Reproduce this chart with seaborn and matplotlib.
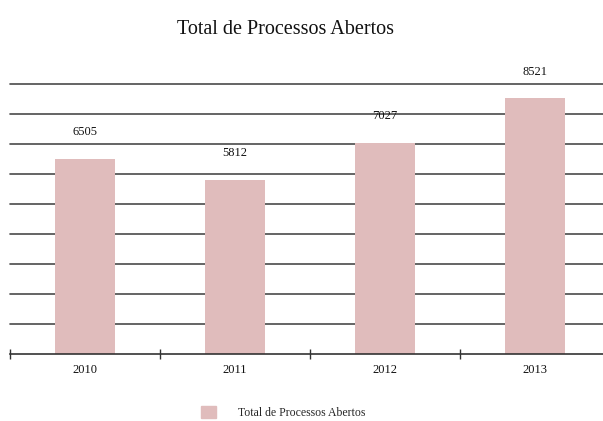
import numpy as np
import pandas as pd
import matplotlib
matplotlib.use("Agg")
import matplotlib.pyplot as plt
import seaborn as sns

years = ["2010", "2011", "2012", "2013"]
abertos = [6505, 5812, 7027, 8521]
serie = "Total de Processos Abertos"

sns.set_theme(style="white")
plt.rcParams['font.family'] = ['Liberation Serif', 'DejaVu Serif']

df = pd.DataFrame({"ano": years, "valor": abertos})

fig = plt.figure(figsize=(6.03, 4.21), dpi=100)
ax = fig.add_axes([10 / 603, 67 / 421, 600 / 603, 270 / 421])

# grid lines under the bars
for y in range(1000, 10000, 1000):
    ax.axhline(y, color="#4a4a4a", lw=1.2, zorder=0, clip_on=False)

sns.barplot(data=df, x="ano", y="valor", color="#E0BCBC", width=0.4,
            saturation=1, ax=ax, zorder=2, linewidth=0)

for i, v in enumerate(abertos):
    ax.annotate(str(v), (i, v), xytext=(0, 15), textcoords="offset points",
                ha="center", va="bottom", fontsize=9, color="#111111")

ax.set_xlim(-0.5, 3.5)
ax.set_ylim(0, 9000)
ax.set_yticks([])
ax.set_xlabel("")
ax.set_ylabel("")
ax.set_xticks([-0.5, 0.5, 1.5, 2.5], minor=False)
ax.set_xticklabels([])
ax.set_xticks(range(4), minor=True)
ax.set_xticklabels(years, minor=True, fontsize=9, color="#111111")
ax.tick_params(axis="x", which="major", direction="inout", length=7,
               width=1, color="#333333", bottom=True)
ax.tick_params(axis="x", which="minor", length=0, pad=7)
for s in ["top", "right", "left"]:
    ax.spines[s].set_visible(False)
ax.spines["bottom"].set_color("#333333")
ax.spines["bottom"].set_linewidth(1.2)
ax.spines["bottom"].set_zorder(3)

fig.text(0.474, 0.93, serie, ha="center", va="center", fontsize=14.5, color="#111111")

handles = [plt.Rectangle((0, 0), 1, 1, color="#E0BCBC")]
fig.legend(handles, [serie], loc="center", bbox_to_anchor=(0.47, 0.02),
           frameon=False, fontsize=8.5, handlelength=1.2, handleheight=1.2,
           handletextpad=1.9)

fig.savefig("out.png", dpi=100)
